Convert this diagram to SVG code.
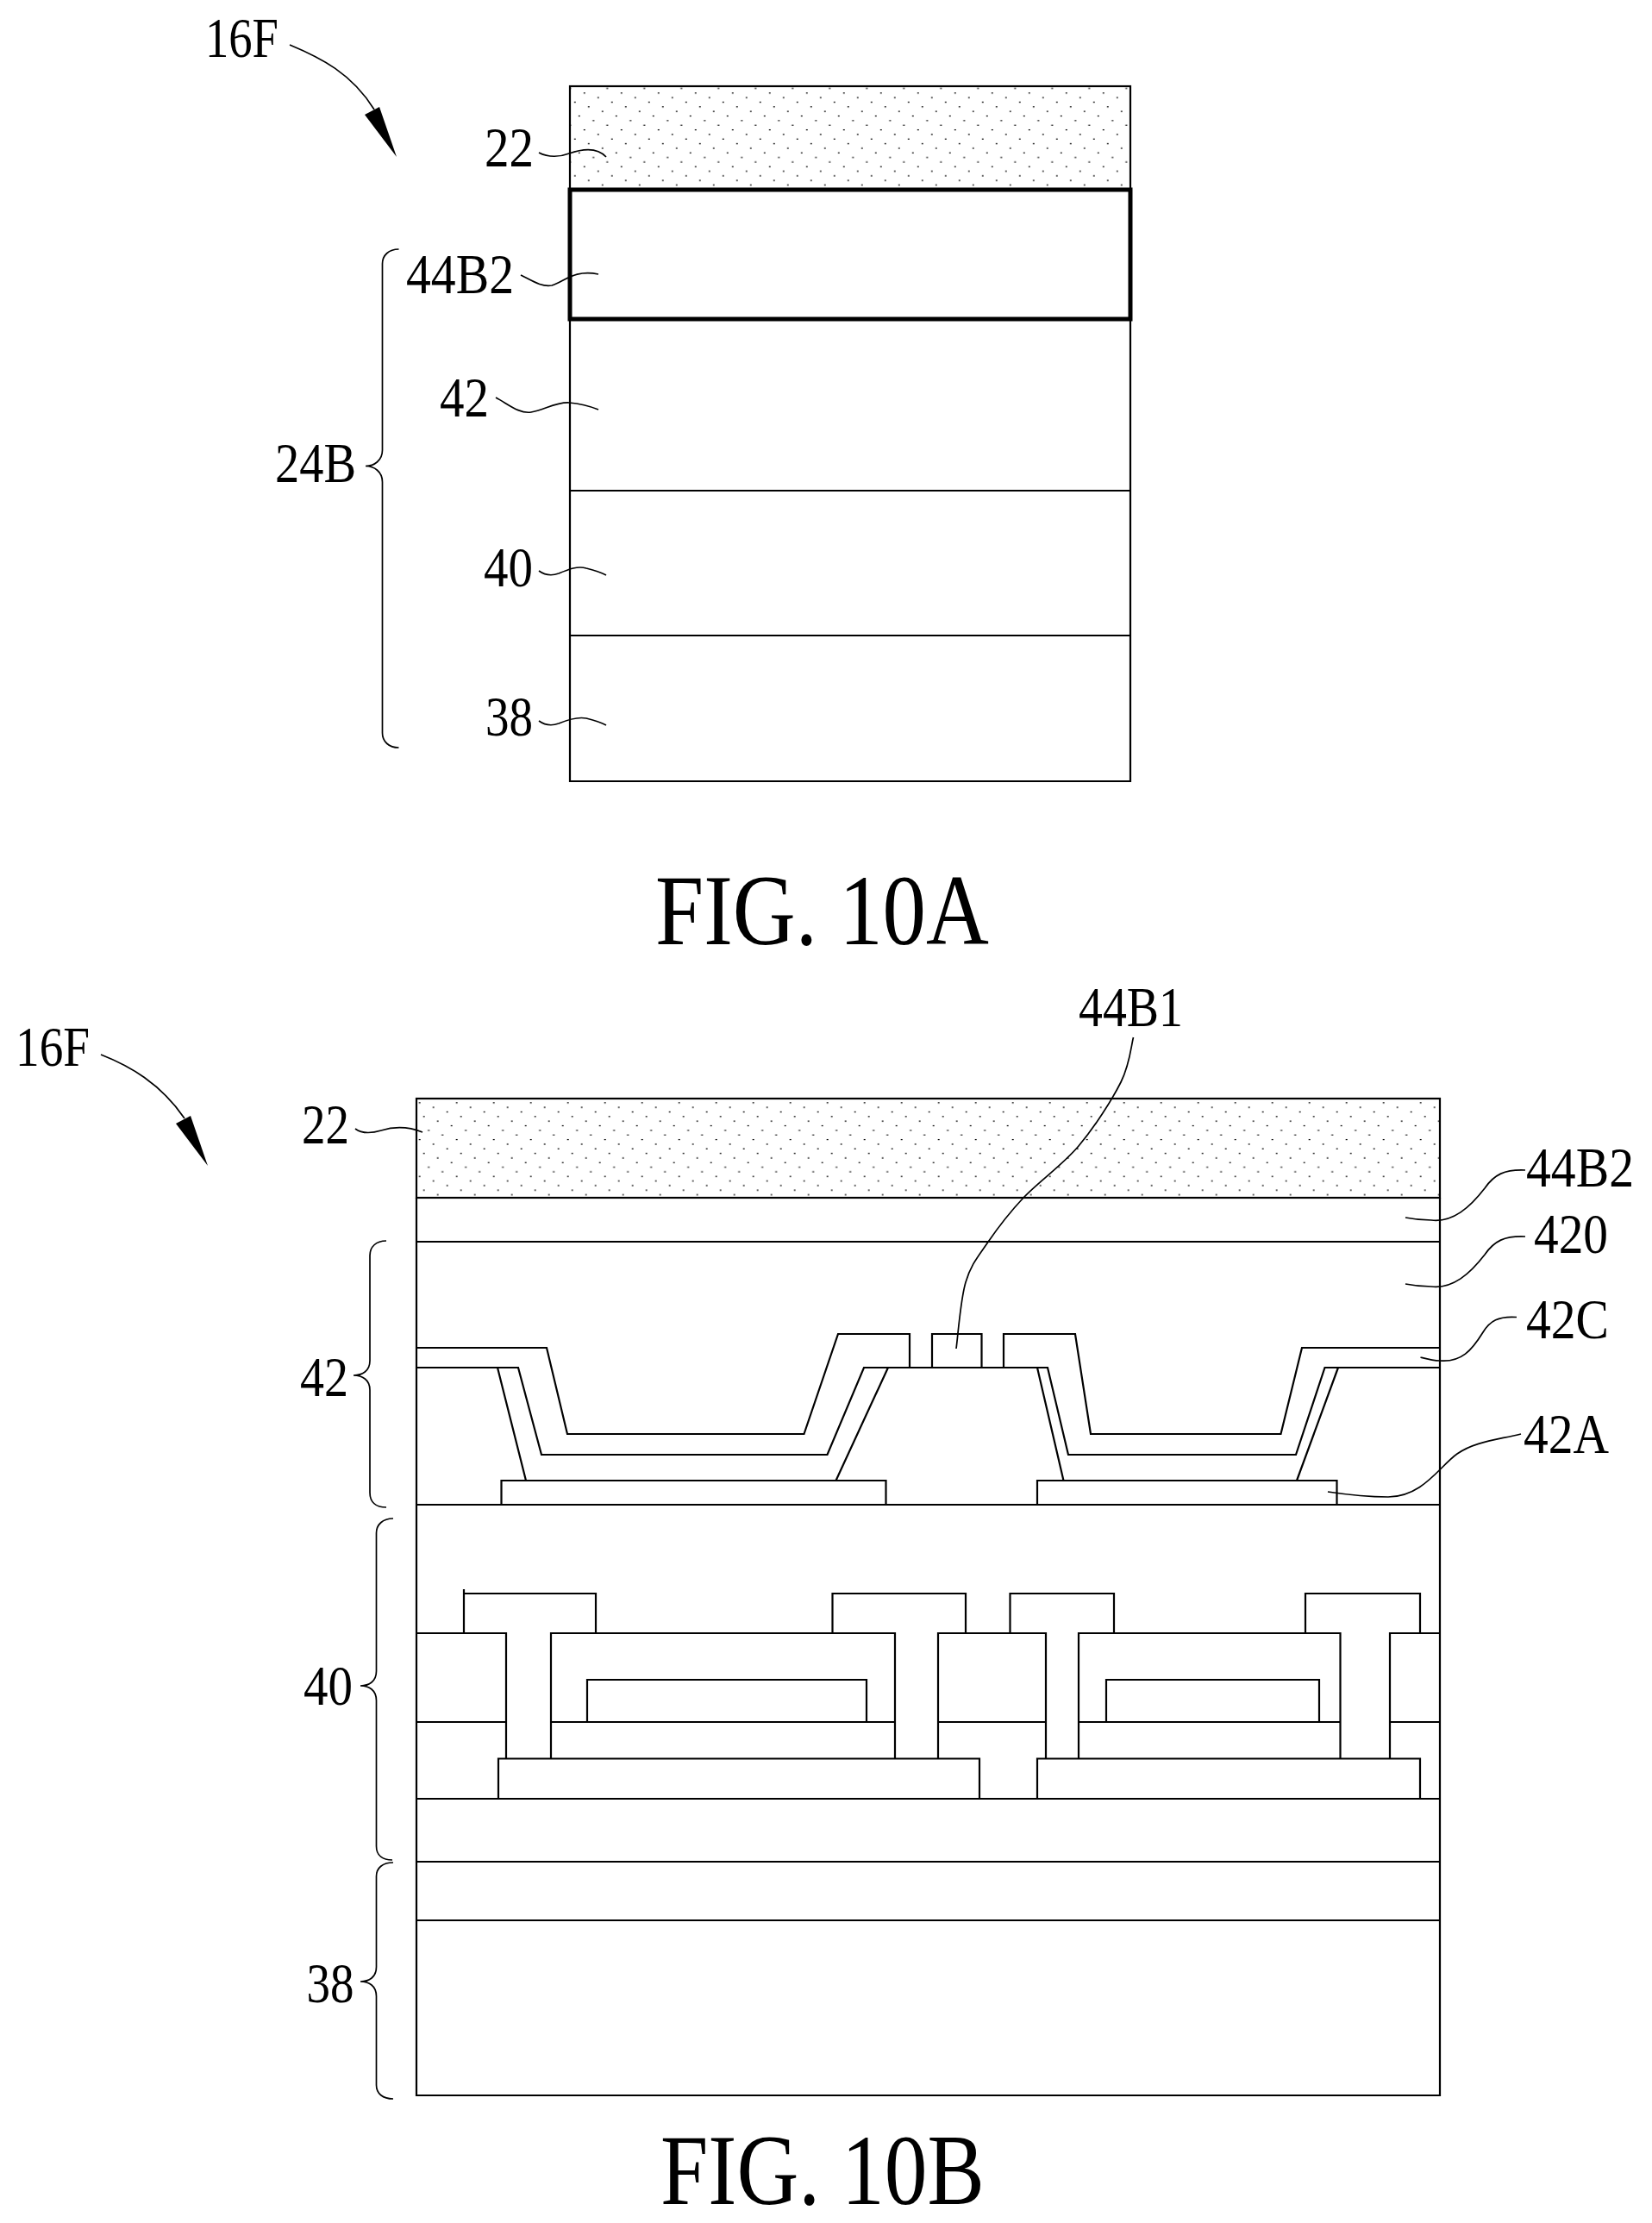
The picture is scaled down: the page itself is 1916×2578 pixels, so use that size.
<svg xmlns="http://www.w3.org/2000/svg" width="1916" height="2578" viewBox="0 0 1916 2578">
<style>
text{font-family:"Liberation Serif","Times New Roman",serif;fill:#000;font-size:66px}
.fig{font-size:116px}
.l{fill:none;stroke:#000;stroke-width:2.2;stroke-linejoin:miter}
.t{fill:none;stroke:#000;stroke-width:5}
.c{fill:none;stroke:#000;stroke-width:1.7}
.a{fill:#000;stroke:none}
.sa{fill:url(#stipA);stroke:#000;stroke-width:2.2}
.sb{fill:url(#stipB);stroke:#000;stroke-width:2.2}
</style>
<defs>
<g id="dots" fill="#000">
<rect x="0" y="0" width="2" height="1.2"/><rect x="16" y="5.33" width="2" height="1.2"/><rect x="32" y="10.67" width="2" height="1.2"/><rect x="5" y="16" width="2" height="1.2"/><rect x="21" y="21.33" width="2" height="1.2"/><rect x="37" y="26.67" width="2" height="1.2"/><rect x="10.5" y="32" width="2" height="1.2"/><rect x="26.5" y="37.33" width="2" height="1.2"/>
</g>
<pattern id="stipA" patternUnits="userSpaceOnUse" x="676.8" y="107.3" width="43" height="42.67"><use href="#dots"/></pattern>
<pattern id="stipB" patternUnits="userSpaceOnUse" x="485.7" y="1278.3" width="43" height="42.67"><use href="#dots"/></pattern>
</defs>
<rect width="1916" height="2578" fill="#fff"/>

<g id="fig-10a">
<g id="a-layer-22"><rect x="661" y="100" width="650" height="120" class="sa"/></g>
<g id="a-layers">
<path class="l" d="M661 370V906H1311V370M661 569H1311M661 737H1311"/>
</g>
<g id="a-layer-44B2"><rect x="661" y="220" width="650" height="150" class="t"/></g>
</g>

<g id="fig-10b">
<g id="b-layer-22"><rect x="483" y="1274" width="1187" height="115" class="sb"/></g>
<g id="b-frame">
<path class="l" d="M483 1389V2430H1670V1389M483 1440H1670M483 1745H1670M483 2086H1670M483 2159H1670M483 2227H1670"/>
</g>
<g id="b-42-stack">
<path class="l" d="M483 1563H634L658 1663H932.5L972 1547H1055V1586M1081 1586V1547H1138.5V1586M1164 1586V1547H1247L1265 1663H1485.5L1510 1563H1670"/>
<path class="l" d="M483 1586H601L628 1687H959.5L1002 1586H1215L1239 1687H1503L1536.5 1586H1670"/>
<path class="l" d="M577 1586L610 1717M1030 1586L969.5 1717M1203 1586L1233.5 1717M1552 1586L1504 1717"/>
<path class="l" d="M581.5 1745V1717H1027.5V1745M1203 1745V1717H1550.5V1745"/>
</g>
<g id="b-40-stack">
<path class="l" d="M538 1894V1843M538 1848H691V1894M965.5 1894V1848H1120V1894M1171.5 1894V1848H1292V1894M1514 1894V1848H1647V1894"/>
<path class="l" d="M483 1894H587V2039M639 2039V1894H1038V2039M1088 2039V1894H1213V2039M1251 2039V1894H1554.5V2039M1612 2039V1894H1670"/>
<path class="l" d="M483 1997H587M639 1997H1038M1088 1997H1213M1251 1997H1554.5M1612 1997H1670"/>
<path class="l" d="M681 1997V1948H1005V1997M1283 1997V1948H1530V1997"/>
<path class="l" d="M578 2086V2039.5H1136V2086M1203 2086V2039.5H1647V2086"/>
</g>
</g>

<g id="connectors">
<path class="c" d="M336 52C372 67 408 85 434 127"/>
<polygon class="a" points="423,133 440,124 460,182"/>
<path class="c" d="M625 177C636 183 650 182 660 178C674 173 692 170 703 182"/>
<path class="c" d="M604 319C618 326 628 333 640 331C654 327 666 312 694 318"/>
<path class="c" d="M575 461C590 469 602 480 616 478C630 476 645 466 660 467C672 468 684 471 694 475"/>
<path class="c" d="M625 662C632 667 640 668 648 665C660 660 670 656 680 659C688 661 696 663 703 667"/>
<path class="c" d="M625 836C632 841 640 842 648 839C660 834 670 831 680 833C688 835 696 837 703 841"/>
<path class="c" d="M462.5 289C451 289 443.5 296 443.5 306V522C443.5 534 434 540.5 424 540.5C434 540.5 443.5 547 443.5 559V850C443.5 860 451 867 462.5 867"/>

<path class="c" d="M117 1223C150 1236 186 1256 214 1297"/>
<polygon class="a" points="204,1303 221,1294 241,1352"/>
<path class="c" d="M412 1309C420 1315 432 1314 442 1311C455 1307 470 1305 490 1313"/>
<path class="c" d="M448 1439C436 1439 429 1446 429 1456V1578C429 1590 420 1595 410 1595C420 1595 429 1600 429 1612V1731C429 1742 436 1748 448 1748"/>
<path class="c" d="M456 1761C444 1761 436.5 1768 436.5 1778V1938C436.5 1950 428 1955 418 1955C428 1955 436.5 1960 436.5 1972V2141C436.5 2152 444 2157 455 2157"/>
<path class="c" d="M456 2160C444 2160 436.5 2166 436.5 2176V2281C436.5 2293 428 2298 418 2298C428 2298 436.5 2303 436.5 2315V2418C436.5 2428 444 2434 456 2434"/>
<path class="c" d="M1314.5 1203C1312 1212 1310.6 1234 1300 1255C1289.4 1276 1269.8 1306.7 1251 1329C1232.2 1351.3 1204.6 1370.3 1187 1389C1169.4 1407.7 1156.7 1424.7 1145.5 1441C1134.3 1457.3 1126.1 1466.5 1120 1487C1113.9 1507.5 1110.8 1551.2 1109 1564"/>
<path class="c" d="M1769 1357C1745 1356 1733 1362 1722 1378C1705 1400 1685 1418 1660 1415C1650 1415 1640 1414 1630 1412"/>
<path class="c" d="M1769 1434C1745 1433 1733 1439 1722 1455C1705 1477 1685 1495 1660 1492C1650 1492 1640 1491 1630 1489"/>
<path class="c" d="M1759 1527.5C1738 1526 1728 1532 1720 1545C1707 1566 1695 1580 1670 1578C1662 1578 1655 1576 1647.5 1574"/>
<path class="c" d="M1764 1663C1735 1670 1710 1672 1690 1686C1670 1700 1650 1736 1610 1736C1585 1736 1560 1733 1540 1730"/>
</g>

<g id="labels">
<text x="238" y="66" textLength="85" lengthAdjust="spacingAndGlyphs">16F</text>
<text x="562" y="192.5" textLength="57" lengthAdjust="spacingAndGlyphs">22</text>
<text x="471" y="340" textLength="125" lengthAdjust="spacingAndGlyphs">44B2</text>
<text x="510" y="483" textLength="57" lengthAdjust="spacingAndGlyphs">42</text>
<text x="319" y="558.5" textLength="94" lengthAdjust="spacingAndGlyphs">24B</text>
<text x="561" y="680" textLength="57" lengthAdjust="spacingAndGlyphs">40</text>
<text x="563" y="852.5" textLength="55" lengthAdjust="spacingAndGlyphs">38</text>
<text class="fig" x="760" y="1095" textLength="387" lengthAdjust="spacingAndGlyphs">FIG. 10A</text>
<text x="18" y="1236" textLength="86" lengthAdjust="spacingAndGlyphs">16F</text>
<text x="350" y="1326" textLength="55" lengthAdjust="spacingAndGlyphs">22</text>
<text x="348" y="1618.5" textLength="56" lengthAdjust="spacingAndGlyphs">42</text>
<text x="352" y="1977" textLength="57" lengthAdjust="spacingAndGlyphs">40</text>
<text x="355.5" y="2322" textLength="55" lengthAdjust="spacingAndGlyphs">38</text>
<text x="1251" y="1190" textLength="121" lengthAdjust="spacingAndGlyphs">44B1</text>
<text x="1770" y="1376" textLength="125" lengthAdjust="spacingAndGlyphs">44B2</text>
<text x="1779" y="1453" textLength="86" lengthAdjust="spacingAndGlyphs">420</text>
<text x="1770" y="1551.5" textLength="96" lengthAdjust="spacingAndGlyphs">42C</text>
<text x="1767" y="1685" textLength="99" lengthAdjust="spacingAndGlyphs">42A</text>
<text class="fig" x="766" y="2556" textLength="376" lengthAdjust="spacingAndGlyphs">FIG. 10B</text>
</g>
</svg>
